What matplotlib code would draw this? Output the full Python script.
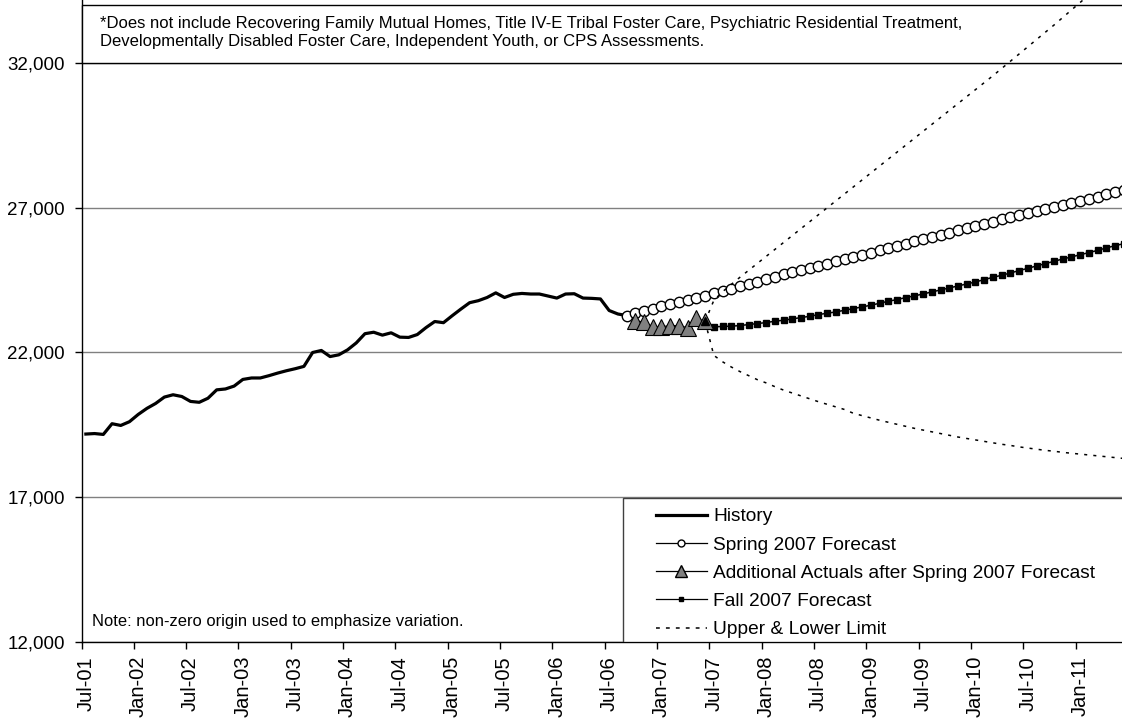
import matplotlib

matplotlib.use("Agg")
import matplotlib.pyplot as plt
import pandas as pd
from matplotlib.lines import Line2D
from matplotlib.patches import Rectangle
from matplotlib.ticker import FuncFormatter

plt.rcParams["font.family"] = ["Liberation Sans", "DejaVu Sans"]

# category axis: one slot per month, Jul-01 .. Jun-11
months = pd.date_range("2001-07-01", periods=120, freq="MS").strftime("%b-%y").tolist()

# caseload history, Jul-01 .. Sep-06
history = [
    19183, 19200, 19170, 19540, 19480, 19610, 19860, 20070, 20240, 20460,
    20540, 20480, 20310, 20280, 20420, 20710, 20740, 20840, 21070, 21120,
    21120, 21200, 21290, 21370, 21440, 21520, 22000, 22070, 21860, 21920,
    22090, 22330, 22650, 22700, 22600, 22680, 22530, 22520, 22620, 22860,
    23070, 23030, 23270, 23500, 23720, 23790, 23900, 24060, 23900, 24010,
    24040, 24020, 24020, 23950, 23880, 24020, 24030, 23880, 23870, 23850,
    23450, 23330, 23276,
]

# Spring 2007 forecast, Sep-06 .. Jun-11
spring_start = 62
spring = [
    23276, 23368, 23448, 23517, 23597, 23678, 23747, 23816, 23885, 23960,
    24040, 24120, 24200, 24280, 24360, 24450, 24540, 24620, 24700, 24775,
    24855, 24935, 25000, 25069, 25149, 25218, 25299, 25379, 25448, 25529,
    25610, 25678, 25747, 25839, 25908, 25977, 26069, 26138, 26218, 26299,
    26368, 26437, 26517, 26598, 26667, 26736, 26828, 26897, 26966, 27034,
    27103, 27172, 27241, 27310, 27379, 27471, 27540, 27609,
]

# actuals that came in after the spring forecast, Oct-06 .. Jun-07
actual_start = 63
actuals = [23092, 23057, 22890, 22890, 22930, 22930, 22856, 23183, 23075]

# Fall 2007 forecast, Jul-07 .. Jun-11
fall_start = 72
fall = [
    22885, 22900, 22910, 22930, 22966, 23000, 23034, 23080, 23115, 23160,
    23207, 23250, 23310, 23356, 23402, 23460, 23517, 23575, 23632, 23701,
    23770, 23828, 23897, 23954, 24023, 24092, 24161, 24230, 24299, 24368,
    24437, 24517, 24598, 24667, 24747, 24828, 24908, 24989, 25069, 25149,
    25230, 25299, 25379, 25448, 25529, 25610, 25690, 25759,
]

# forecast limits, Jun-07 .. Jun-11
limit_start = 71
upper = [
    23075, 23800, 24100, 24350, 24600, 24840, 25080, 25320, 25560, 25800,
    26040, 26280, 26520, 26760, 27000, 27240, 27480, 27720, 27960, 28200,
    28440, 28680, 28920, 29160, 29400, 29640, 29880, 30120, 30360, 30600,
    30840, 31080, 31320, 31560, 31810, 32060, 32310, 32560, 32810, 33060,
    33310, 33570, 33830, 34090, 34350, 34610, 34870, 35130, 35390,
]
lower = [
    23075, 21900, 21680, 21500, 21340, 21200, 21060, 20950, 20820, 20700,
    20600, 20500, 20400, 20300, 20210, 20120, 20030, 19900, 19820, 19740,
    19660, 19590, 19520, 19450, 19380, 19320, 19260, 19200, 19140, 19080,
    19030, 18980, 18930, 18880, 18830, 18790, 18740, 18700, 18660, 18620,
    18590, 18550, 18520, 18490, 18460, 18430, 18400, 18370, 18340,
]

y_ticks = [12000, 17000, 22000, 27000, 32000]

footnote = ("*Does not include Recovering Family Mutual Homes, Title IV-E Tribal Foster Care, "
            "Psychiatric Residential Treatment,\nDevelopmentally Disabled Foster Care, "
            "Independent Youth, or CPS Assessments.")
note = "Note: non-zero origin used to emphasize variation."


def span(start, values):
    return list(range(start, start + len(values)))


fig = plt.figure(figsize=(11.22, 7.21), dpi=100)
ax = fig.add_axes([81.5 / 1122, 1 - 642 / 721, 1 - 81.5 / 1122, 642 / 721])

dots = (0, (2, 4))
ax.plot(span(limit_start, upper), upper, color="black", lw=1.1, ls=dots, zorder=9)
ax.plot(span(limit_start, lower), lower, color="black", lw=1.1, ls=dots, zorder=9)
ax.plot(span(0, history), history, color="black", lw=2.3, solid_joinstyle="round", zorder=4)
ax.plot(span(spring_start, spring), spring, color="black", lw=0.8, marker="o", ms=7.5,
        mfc="white", mec="black", mew=1.0, zorder=4)
ax.plot(span(actual_start, actuals), actuals, color="black", lw=0.8, marker="^", ms=11,
        mfc="#808080", mec="black", mew=0.8, zorder=5)
ax.plot(span(fall_start, fall), fall, color="black", lw=1.1, marker="s", ms=4.5,
        mfc="black", mec="black", zorder=4)
# small dark marker where the fall forecast picks up from the last actual
ax.plot([actual_start + len(actuals) - 1], [actuals[-1]], marker="^", ms=6, color="black",
        ls="none", zorder=6)

ax.set_xlim(-0.5, 118.8)
ax.set_ylim(12000, 34176)

ax.set_yticks(y_ticks)
ax.yaxis.set_major_formatter(FuncFormatter(lambda v, _: f"{v:,.0f}"))
ax.grid(axis="y", color="#808080", lw=1.0)
ax.set_axisbelow(True)

label_pos = list(range(0, len(months), 6))
ax.set_xticks([p - 0.5 for p in label_pos])
ax.set_xticklabels([])
ax.set_xticks(label_pos, minor=True)
ax.set_xticklabels([months[p] for p in label_pos], minor=True, rotation=90)

ax.tick_params(axis="x", which="major", length=5, width=1, direction="out")
ax.tick_params(axis="x", which="minor", length=0, pad=10, labelsize=14.5)
ax.tick_params(axis="y", length=5, width=1, direction="out", pad=7, labelsize=13.5)

for side in ("top", "right"):
    ax.spines[side].set_visible(False)
for side in ("left", "bottom"):
    ax.spines[side].set_linewidth(1.0)

# footnote box along the top
ax.add_patch(Rectangle((0, 0.9019), 1.02, 0.0903, transform=ax.transAxes, fc="white",
                       ec="black", lw=1.0, clip_on=False, zorder=7))
ax.text(0.0178, 0.9494, footnote, transform=ax.transAxes, fontsize=12.0, va="center",
        ha="left", linespacing=1.2, zorder=8)

ax.text(0.0101, 0.0312, note, transform=ax.transAxes, fontsize=11.9, va="center",
        ha="left", zorder=8)

# legend box
ax.add_patch(Rectangle((0.5201, 0), 0.5, 0.2243, transform=ax.transAxes, fc="white",
                       ec="#404040", lw=1.0, zorder=7))
handles = [
    Line2D([], [], color="black", lw=2.3),
    Line2D([], [], color="black", lw=0.9, marker="o", ms=5, mfc="white", mec="black"),
    Line2D([], [], color="black", lw=0.9, marker="^", ms=8, mfc="#808080", mec="black"),
    Line2D([], [], color="black", lw=0.9, marker="s", ms=3.5, mfc="black"),
    Line2D([], [], color="black", lw=1.1, ls=(0, (2.5, 4))),
]
labels = ["History", "Spring 2007 Forecast", "Additional Actuals after Spring 2007 Forecast",
          "Fall 2007 Forecast", "Upper & Lower Limit"]
leg = ax.legend(handles, labels, loc="upper left", bbox_to_anchor=(0.5521, 0.2087),
                frameon=False, fontsize=13.8, borderpad=0, borderaxespad=0,
                handlelength=2.66, handletextpad=0.31, labelspacing=0.565)
leg.set_zorder(8)

fig.savefig("out.png", dpi=100)
plt.close(fig)
